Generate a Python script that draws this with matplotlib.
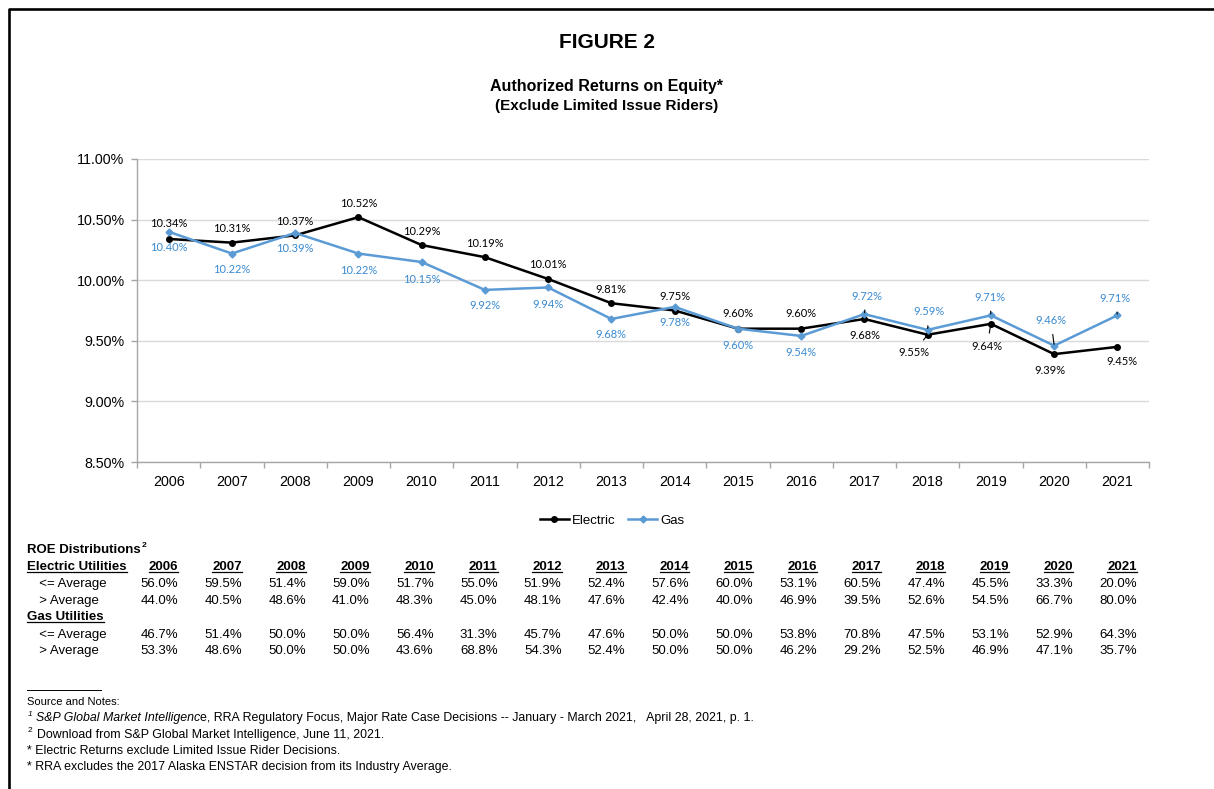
import matplotlib
matplotlib.use('Agg')
import matplotlib.pyplot as plt
from matplotlib.lines import Line2D

# ---------------- data ----------------
years = [str(y) for y in range(2006, 2022)]
electric = [10.34, 10.31, 10.37, 10.52, 10.29, 10.19, 10.01, 9.81, 9.75, 9.60, 9.60, 9.68, 9.55, 9.64, 9.39, 9.45]
gas = [10.40, 10.22, 10.39, 10.22, 10.15, 9.92, 9.94, 9.68, 9.78, 9.60, 9.54, 9.72, 9.59, 9.71, 9.46, 9.71]
y_ticks = [8.5, 9.0, 9.5, 10.0, 10.5, 11.0]

elec_le = [56.0, 59.5, 51.4, 59.0, 51.7, 55.0, 51.9, 52.4, 57.6, 60.0, 53.1, 60.5, 47.4, 45.5, 33.3, 20.0]
elec_gt = [44.0, 40.5, 48.6, 41.0, 48.3, 45.0, 48.1, 47.6, 42.4, 40.0, 46.9, 39.5, 52.6, 54.5, 66.7, 80.0]
gas_le = [46.7, 51.4, 50.0, 50.0, 56.4, 31.3, 45.7, 47.6, 50.0, 50.0, 53.8, 70.8, 47.5, 53.1, 52.9, 64.3]
gas_gt = [53.3, 48.6, 50.0, 50.0, 43.6, 68.8, 54.3, 52.4, 50.0, 50.0, 46.2, 29.2, 52.5, 46.9, 47.1, 35.7]

# label offsets (pixels, dx, dy with y downwards) and leader-line flags (styling)
elec_off = [(0, -15), (0, -14), (0, -14), (0, -14), (0, -14), (0, -14), (0, -14), (0, -14),
            (0, -14), (0, -15), (0, -15), (0, 17), (-14, 18), (-4, 23), (-4, 16), (5, 15)]
elec_lead = [False] * 11 + [True, True, True, False, True]
gas_off = [(0, 16), (0, 16), (0, 16), (0, 17), (0, 17), (0, 16), (0, 17), (0, 16),
           (0, 16), (0, 17), (0, 17), (2, -18), (1, -18), (-1, -18), (-3, -25), (-2, -17)]
gas_lead = [False] * 11 + [True, True, True, True, True]

W, H = 1214, 789
BLUE = '#5B9BD5'
BLUE_TXT = '#3A8AD0'
SANS = ['Liberation Sans', 'DejaVu Sans']
LBL = ['Lato', 'DejaVu Sans']

plt.rcParams['font.family'] = SANS
fig = plt.figure(figsize=(W / 100, H / 100), dpi=100)


def fx(x):
    return x / W


def fy(y):
    return 1 - y / H


# border
fig.add_artist(Line2D([fx(9), fx(9), fx(W)], [fy(H), fy(9), fy(9)], color='black', lw=1.9,
                      transform=fig.transFigure))

# titles
fig.text(fx(607), fy(42), 'FIGURE 2', ha='center', va='center', fontsize=15, fontweight='bold')
fig.text(fx(607), fy(87), 'Authorized Returns on Equity*', ha='center', va='center', fontsize=11.5,
         fontweight='bold')
fig.text(fx(607), fy(106), '(Exclude Limited Issue Riders)', ha='center', va='center', fontsize=11,
         fontweight='bold')

# ---------------- chart ----------------
ax_l, ax_r, ax_t, ax_b = 137, 1149, 159, 462
ax = fig.add_axes([fx(ax_l), fy(ax_b), fx(ax_r - ax_l), (ax_b - ax_t) / H])
x = list(range(len(years)))
ax.plot(x, electric, color='black', lw=1.8, marker='o', ms=4, zorder=3)
ax.plot(x, gas, color=BLUE, lw=1.8, marker='D', ms=3.5, zorder=3)
ax.set_xlim(-0.5, len(years) - 0.5)
ax.set_ylim(y_ticks[0], y_ticks[-1])
ax.set_yticks(y_ticks)
ax.set_yticklabels([f'{v:.2f}%' for v in y_ticks], fontsize=10.3)
ax.set_xticks(x)
ax.set_xticklabels(years, fontsize=10.3)
ax.set_xticks([i - 0.5 for i in range(len(years) + 1)], minor=True)
ax.tick_params(axis='x', which='major', length=0, pad=9)
ax.tick_params(axis='x', which='minor', length=4, color='#A6A6A6', width=1)
ax.tick_params(axis='y', length=4, color='#A6A6A6', width=1, pad=5)
for s in ['top', 'right']:
    ax.spines[s].set_visible(False)
for s in ['left', 'bottom']:
    ax.spines[s].set_color('#A6A6A6')
    ax.spines[s].set_linewidth(1)
ax.grid(axis='y', color='#D9D9D9', lw=1)
ax.set_axisbelow(True)

for i, v in enumerate(electric):
    dx, dy = elec_off[i]
    kw = dict(arrowprops=dict(arrowstyle='-', color='black', lw=0.8, shrinkA=4, shrinkB=1)) if elec_lead[i] else {}
    ax.annotate(f'{v:.2f}%', xy=(i, v), xytext=(dx * 0.72, -dy * 0.72), textcoords='offset points',
                ha='center', va='center', fontsize=8, color='black', family=LBL, zorder=4, **kw)
for i, v in enumerate(gas):
    dx, dy = gas_off[i]
    kw = dict(arrowprops=dict(arrowstyle='-', color='black', lw=0.8, shrinkA=4, shrinkB=1)) if gas_lead[i] else {}
    ax.annotate(f'{v:.2f}%', xy=(i, v), xytext=(dx * 0.72, -dy * 0.72), textcoords='offset points',
                ha='center', va='center', fontsize=8, color=BLUE_TXT, family=LBL, zorder=4, **kw)

handles = [Line2D([], [], color='black', lw=1.8, marker='o', ms=4),
           Line2D([], [], color=BLUE, lw=1.8, marker='D', ms=3.5)]
fig.legend(handles, ['Electric', 'Gas'], loc='center', bbox_to_anchor=(fx(612), fy(521)), ncol=2,
           frameon=False, fontsize=9.5, handlelength=2.2, handletextpad=0.2, columnspacing=1.0)

# ---------------- table ----------------
TFS = 9.5
underline_items = []
t = fig.text(fx(27), fy(550), 'ROE Distributions', ha='left', va='center', fontsize=TFS, fontweight='bold')
sup_anchor = t
t = fig.text(fx(27), fy(567), 'Electric Utilities', ha='left', va='center', fontsize=TFS, fontweight='bold')
underline_items.append(t)
t = fig.text(fx(27), fy(617), 'Gas Utilities', ha='left', va='center', fontsize=TFS, fontweight='bold')
underline_items.append(t)
row_labels = [('  <= Average', 584), ('  > Average', 601), ('  <= Average', 635), ('  > Average', 651)]
for lab, yy in row_labels:
    fig.text(fx(32), fy(yy), lab, ha='left', va='center', fontsize=TFS)

rows = [(elec_le, 584), (elec_gt, 601), (gas_le, 635), (gas_gt, 651)]
for i, yr in enumerate(years):
    xr = 178 + i * 63.93
    t = fig.text(fx(xr), fy(567), yr, ha='right', va='center', fontsize=TFS, fontweight='bold')
    underline_items.append(t)
    for vals, yy in rows:
        fig.text(fx(xr), fy(yy), f'{vals[i]:.1f}%', ha='right', va='center', fontsize=TFS)

# ---------------- notes ----------------
NFS = 8.9
fig.add_artist(Line2D([fx(27), fx(101)], [fy(690), fy(690)], color='black', lw=0.7, transform=fig.transFigure))
fig.text(fx(27), fy(702), 'Source and Notes:', ha='left', va='center', fontsize=8.0)
fig.text(fx(28), fy(714), '1', ha='left', va='center', fontsize=6, style='italic')
n1 = fig.text(fx(36), fy(718), 'S&P Global Market Intelligenc', ha='left', va='center', fontsize=NFS,
              style='italic')
fig.text(fx(28), fy(731), '2', ha='left', va='center', fontsize=6)
fig.text(fx(37), fy(735), 'Download from S&P Global Market Intelligence, June 11, 2021.', ha='left',
         va='center', fontsize=NFS)
fig.text(fx(27), fy(751), '* Electric Returns exclude Limited Issue Rider Decisions.', ha='left',
         va='center', fontsize=NFS)
fig.text(fx(27), fy(767), '* RRA excludes the 2017 Alaska ENSTAR decision from its Industry Average.',
         ha='left', va='center', fontsize=NFS)

fig.canvas.draw()
r = fig.canvas.get_renderer()
bb = n1.get_window_extent(r)
fig.text(bb.x1 / W, fy(718), 'e, RRA Regulatory Focus, Major Rate Case Decisions -- January - March 2021,   '
         'April 28, 2021, p. 1.', ha='left', va='center', fontsize=NFS)
bb = sup_anchor.get_window_extent(r)
fig.text(bb.x1 / W + 0.001, bb.y1 / H - 0.002, '2', ha='left', va='center', fontsize=6, fontweight='bold')
for t in underline_items:
    bb = t.get_window_extent(r)
    yline = bb.y0 + 1.5
    fig.add_artist(Line2D([bb.x0 / W, bb.x1 / W], [yline / H, yline / H], color='black', lw=0.9,
                          transform=fig.transFigure))

fig.savefig('out.png', dpi=100)
